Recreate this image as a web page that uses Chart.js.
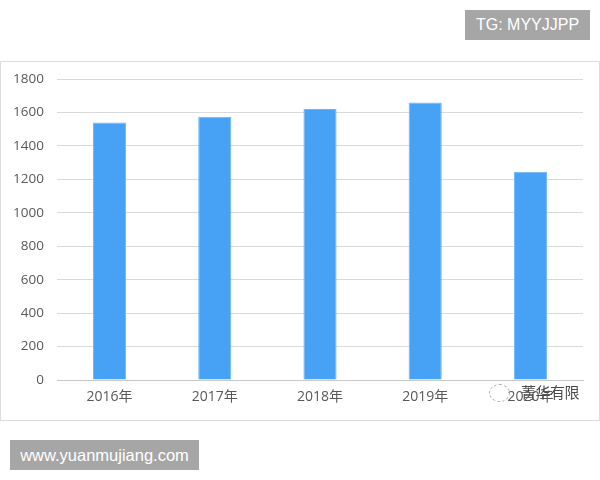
<!DOCTYPE html>
<html>
<head>
<meta charset="utf-8">
<script src="https://cdn.jsdelivr.net/npm/chart.js@4/dist/chart.umd.min.js"></script>
<style>
  html, body { margin: 0; padding: 0; background: #ffffff; width: 600px; height: 480px; overflow: hidden; }
  #frame { position: absolute; left: 0; top: 61px; width: 598px; height: 358px; border: 1px solid #dcdcdc; background: #fff; }
  #frame canvas { position: absolute; left: 0; top: 0; }
  .tag { position: absolute; background: #a6a6a6; color: #ffffff; font-family: "Liberation Sans", Arial, sans-serif; line-height: 30px; text-align: center; }
  #wm { position: absolute; left: 521px; top: 381px; font-family: "Noto Sans CJK SC", sans-serif; font-size: 15px; color: #4a4a4a; letter-spacing: -0.5px; }
  #wmicon { position: absolute; left: 489px; top: 384px; width: 19px; height: 16px; border: 1px dashed #aaa; border-radius: 50%; }
</style>
</head>
<body>
<div class="tag" style="left:465px; top:10px; width:125px; height:30px; font-size:16px;">TG: MYYJJPP</div>
<div id="frame"><canvas id="c" width="598" height="358"></canvas></div>
<div id="wmicon"></div>
<div id="wm">菁华有限</div>
<div class="tag" style="left:10px; top:440px; width:189px; height:30px; font-size:16.5px;">www.yuanmujiang.com</div>
<script>
const categories = ["2016年", "2017年", "2018年", "2019年", "2020年"];
const values = [1540, 1575, 1620, 1660, 1245];
const yMax = 1800;
const yStep = 200;

const fontFamily = '"Open Sans", "Noto Sans CJK SC", sans-serif';
new Chart(document.getElementById('c'), {
  type: 'bar',
  data: {
    labels: categories,
    datasets: [{
      data: values,
      backgroundColor: '#47a1f4',
      borderColor: '#6db5f7',
      borderWidth: 1,
      barPercentage: 0.315,
      categoryPercentage: 1.0
    }]
  },
  options: {
    responsive: false,
    animation: false,
    devicePixelRatio: 1,
    layout: { padding: { left: 0, right: 16, top: 17, bottom: 0 } },
    plugins: { legend: { display: false }, tooltip: { enabled: false } },
    scales: {
      x: {
        grid: { display: false, drawTicks: false },
        border: { display: true, color: '#c8c8c8', width: 1 },
        ticks: { color: '#595959', font: { family: fontFamily, size: 14 }, padding: 9 },
        afterFit: (s) => { s.height = 40; }
      },
      y: {
        min: 0, max: yMax,
        grid: { color: '#d9d9d9', drawTicks: false, lineWidth: 1 },
        border: { display: false },
        ticks: { stepSize: yStep, color: '#595959', font: { family: fontFamily, size: 13.5 }, padding: 13,
                 callback: (v) => String(v) },
        afterFit: (s) => { s.width = 56; s.paddingTop = 0; s.paddingBottom = 0; }
      }
    }
  }
});
</script>
</body>
</html>
